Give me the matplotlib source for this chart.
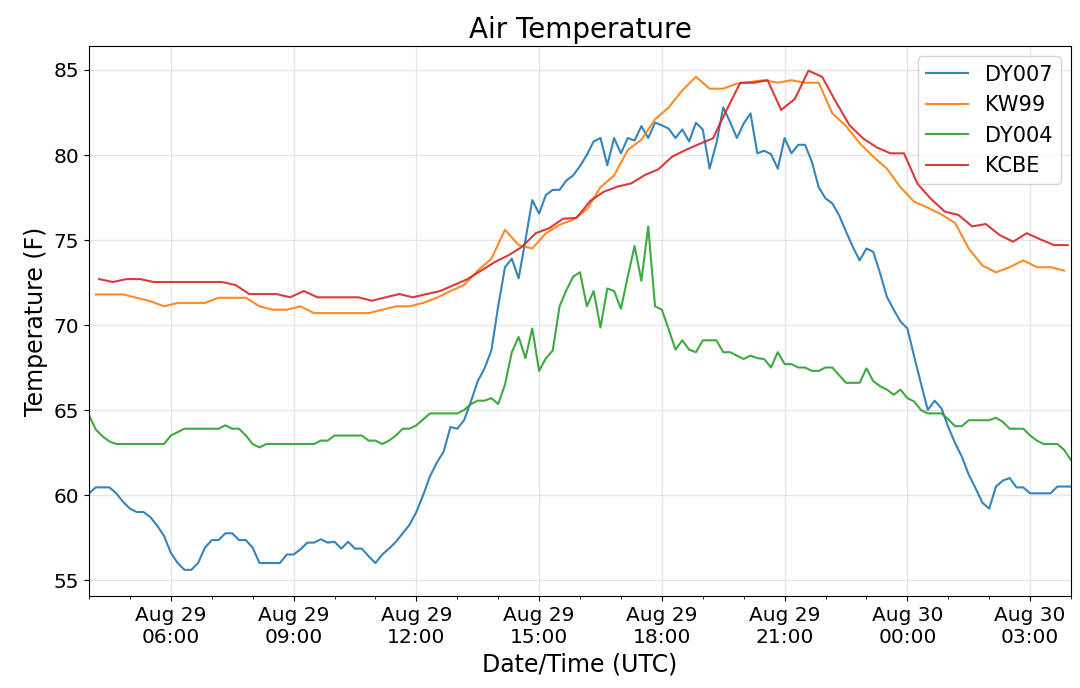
import pandas as pd
import matplotlib
matplotlib.use("Agg")
import matplotlib.pyplot as plt
import matplotlib.dates as mdates

# 10-minute mesonet stations
dy_times = pd.date_range("2017-08-29 04:00", periods=145, freq="10min")

dy007 = [
    60.1, 60.45, 60.45, 60.45, 60.1, 59.6, 59.2, 59.0, 59.0, 58.7,
    58.2, 57.6, 56.6, 56.0, 55.6, 55.6, 56.0, 56.9, 57.35, 57.35,
    57.75, 57.75, 57.35, 57.35, 56.9, 56.0, 56.0, 56.0, 56.0, 56.5,
    56.5, 56.8, 57.2, 57.2, 57.4, 57.2, 57.25, 56.85, 57.25, 56.85,
    56.85, 56.4, 56.0, 56.5, 56.85, 57.25, 57.75, 58.25, 59.0, 60.0,
    61.1, 61.9, 62.55, 64.0, 63.9, 64.4, 65.5, 66.7, 67.45, 68.5,
    71.1, 73.4, 73.9, 72.75, 75.0, 77.35, 76.55, 77.65, 77.95, 77.95,
    78.5, 78.8, 79.35, 80.0, 80.8, 81.0, 79.4, 81.0, 80.1, 81.0,
    80.85, 81.7, 81.0, 81.9, 81.75, 81.55, 81.0, 81.5, 80.8, 81.9,
    81.5, 79.2, 80.7, 82.8, 81.95, 81.0, 81.85, 82.45, 80.1, 80.25,
    80.05, 79.2, 81.0, 80.1, 80.6, 80.6, 79.6, 78.1, 77.45, 77.15,
    76.45, 75.5, 74.6, 73.8, 74.5, 74.3, 73.05, 71.65, 70.9, 70.2,
    69.8, 68.15, 66.55, 65.0, 65.55, 65.1, 64.0, 63.05, 62.25, 61.2,
    60.4, 59.55, 59.2, 60.5, 60.85, 61.0, 60.45, 60.45, 60.1, 60.1,
    60.1, 60.1, 60.5, 60.5, 60.5,
]

dy004 = [
    64.7, 63.85, 63.45, 63.15, 63.0, 63.0, 63.0, 63.0, 63.0, 63.0,
    63.0, 63.0, 63.5, 63.7, 63.9, 63.9, 63.9, 63.9, 63.9, 63.9,
    64.1, 63.9, 63.9, 63.5, 63.0, 62.8, 63.0, 63.0, 63.0, 63.0,
    63.0, 63.0, 63.0, 63.0, 63.2, 63.2, 63.5, 63.5, 63.5, 63.5,
    63.5, 63.2, 63.2, 63.0, 63.2, 63.5, 63.9, 63.9, 64.1, 64.45,
    64.8, 64.8, 64.8, 64.8, 64.8, 65.0, 65.35, 65.55, 65.55, 65.7,
    65.35, 66.5, 68.4, 69.3, 68.05, 69.8, 67.3, 68.05, 68.5, 71.1,
    72.05, 72.85, 73.1, 71.1, 72.0, 69.85, 72.15, 72.0, 70.95, 72.85,
    74.65, 72.6, 75.8, 71.1, 70.9, 69.75, 68.55, 69.1, 68.55, 68.4,
    69.1, 69.1, 69.1, 68.4, 68.4, 68.2, 68.0, 68.2, 68.05, 68.0,
    67.5, 68.4, 67.7, 67.7, 67.5, 67.5, 67.3, 67.3, 67.5, 67.5,
    67.05, 66.6, 66.6, 66.6, 67.45, 66.7, 66.4, 66.2, 65.9, 66.2,
    65.7, 65.5, 65.0, 64.8, 64.8, 64.8, 64.45, 64.05, 64.05, 64.4,
    64.4, 64.4, 64.4, 64.55, 64.3, 63.9, 63.9, 63.9, 63.5, 63.2,
    63.0, 63.0, 63.0, 62.65, 62.05,
]

# 20-minute stations
kw99_times = pd.date_range("2017-08-29 04:10", periods=72, freq="20min")
kw99 = [
    71.8, 71.8, 71.8, 71.6, 71.4, 71.1, 71.3, 71.3, 71.3, 71.6,
    71.6, 71.6, 71.1, 70.9, 70.9, 71.1, 70.7, 70.7, 70.7, 70.7,
    70.7, 70.9, 71.1, 71.1, 71.3, 71.6, 72.0, 72.35, 73.2, 73.9,
    75.6, 74.7, 74.5, 75.4, 75.9, 76.2, 76.8, 78.1, 78.8, 80.3,
    80.9, 82.1, 82.8, 83.8, 84.6, 83.9, 83.9, 84.2, 84.3, 84.4,
    84.25, 84.4, 84.25, 84.25, 82.45, 81.7, 80.7, 79.9, 79.2, 78.1,
    77.25, 76.9, 76.5, 76.0, 74.5, 73.5, 73.1, 73.4, 73.8, 73.4,
    73.4, 73.2,
]

kcbe_times = pd.date_range("2017-08-29 04:15", periods=72, freq="20min")
kcbe = [
    72.7, 72.53, 72.7, 72.7, 72.53, 72.53, 72.53, 72.53, 72.53, 72.53,
    72.35, 71.82, 71.82, 71.82, 71.63, 72.0, 71.63, 71.63, 71.63, 71.63,
    71.43, 71.63, 71.82, 71.63, 71.82, 72.0, 72.35, 72.7, 73.2, 73.7,
    74.1, 74.6, 75.4, 75.7, 76.25, 76.3, 77.3, 77.84, 78.14, 78.33,
    78.82, 79.16, 79.9, 80.3, 80.65, 80.98, 82.65, 84.25, 84.25, 84.4,
    82.65, 83.3, 84.96, 84.6, 83.14, 81.76, 80.98, 80.45, 80.1, 80.1,
    78.3, 77.4, 76.67, 76.47, 75.8, 75.94, 75.3, 74.9, 75.4, 75.04,
    74.7, 74.7,
]

fig, ax = plt.subplots(figsize=(10.8, 6.88), dpi=100)
fig.subplots_adjust(left=0.0824, right=0.9917, top=0.9331, bottom=0.1337)

ax.plot(dy_times, dy007, label="DY007", color="tab:blue", lw=1.5, alpha=0.9)
ax.plot(kw99_times, kw99, label="KW99", color="tab:orange", lw=1.5, alpha=0.9)
ax.plot(dy_times, dy004, label="DY004", color="tab:green", lw=1.5, alpha=0.9)
ax.plot(kcbe_times, kcbe, label="KCBE", color="tab:red", lw=1.5, alpha=0.9)

ax.set_xlim(pd.Timestamp("2017-08-29 04:00"), pd.Timestamp("2017-08-30 04:00"))
ax.set_ylim(54.06, 86.41)
ax.set_yticks([55, 60, 65, 70, 75, 80, 85])

ax.xaxis.set_major_locator(mdates.HourLocator(byhour=range(0, 24, 3)))
ax.xaxis.set_minor_locator(mdates.HourLocator())
ax.xaxis.set_major_formatter(mdates.DateFormatter("%b %d\n%H:%M"))

ax.grid(True, which="major", color="0.9", lw=1)
ax.tick_params(axis="both", which="major", labelsize=14.5)

ax.set_title("Air Temperature", fontsize=20)
ax.set_xlabel("Date/Time (UTC)", fontsize=17)
ax.set_ylabel("Temperature (F)", fontsize=17)
ax.legend(loc="upper right", fontsize=15)

plt.savefig("out.png", dpi=100)
